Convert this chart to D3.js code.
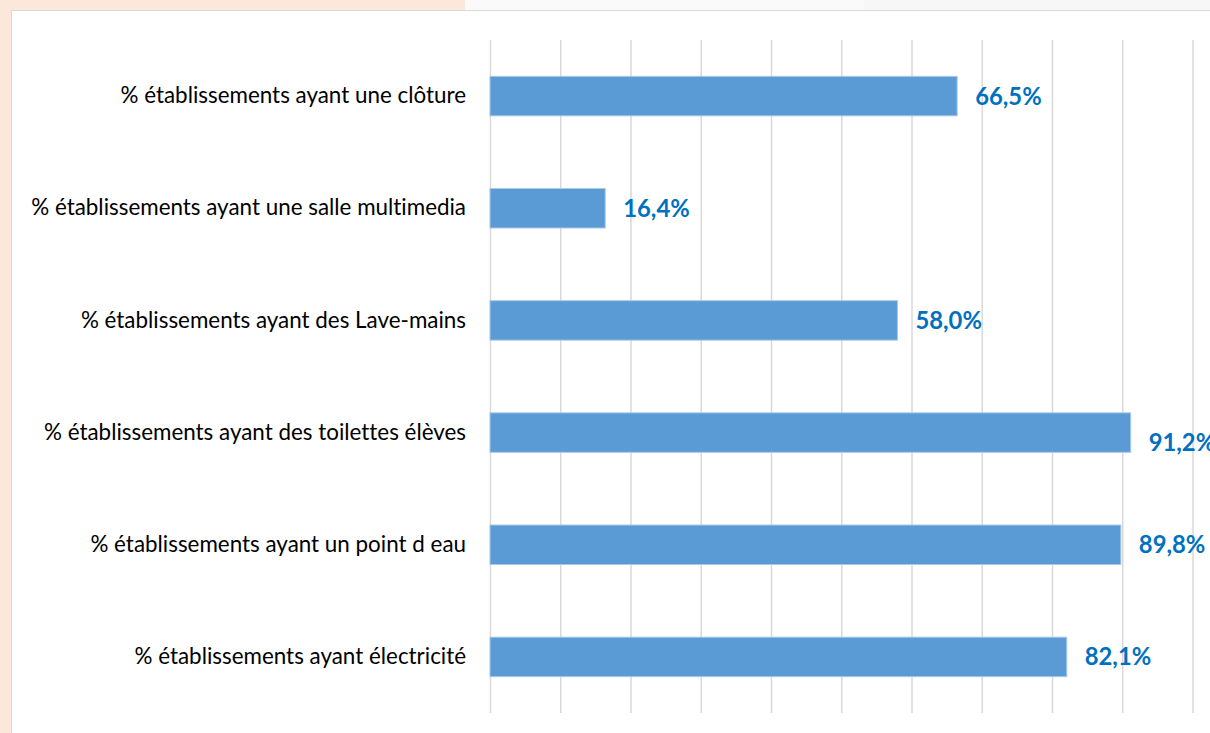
<!DOCTYPE html>
<html>
<head>
<meta charset="utf-8">
<script src="https://cdn.jsdelivr.net/npm/d3@7"></script>
<style>
  html, body { margin: 0; padding: 0; background: #FBE8DA; overflow: hidden; }
  svg { display: block; }
  text { font-variant-ligatures: none; font-feature-settings: "liga" 0, "clig" 0; }
</style>
</head>
<body>
<svg id="chart" width="1210" height="733"></svg>
<script>
const categories = [
  "% établissements ayant une clôture",
  "% établissements ayant une salle multimedia",
  "% établissements ayant des Lave-mains",
  "% établissements ayant des toilettes élèves",
  "% établissements ayant un point d eau",
  "% établissements ayant électricité"
];
const values = [66.5, 16.4, 58.0, 91.2, 89.8, 82.1];
const valueLabels = ["66,5%", "16,4%", "58,0%", "91,2%", "89,8%", "82,1%"];
const xTicks = [0, 10, 20, 30, 40, 50, 60, 70, 80, 90, 100];

const svg = d3.select("#chart");
const W = 1210, H = 733;

// page background pieces
svg.append("rect").attr("x", 0).attr("y", 0).attr("width", W).attr("height", H).attr("fill", "#FBE8DA");
svg.append("rect").attr("x", 465).attr("y", 0).attr("width", 400).attr("height", 11).attr("fill", "#FAFAFA");
svg.append("rect").attr("x", 864).attr("y", 0).attr("width", W - 864).attr("height", 11).attr("fill", "#F7F7F7");
// white chart panel with light border
svg.append("rect").attr("x", 11.5).attr("y", 10.5).attr("width", W).attr("height", H)
  .attr("fill", "#FFFFFF").attr("stroke", "#D9D9D9").attr("stroke-width", 1);

const margin = { left: 490, right: 17.5, top: 40, bottom: 20 };
const x = d3.scaleLinear().domain([0, 100]).range([margin.left, W - margin.right]);
const y = d3.scaleBand().domain(categories).range([margin.top, H - margin.bottom]).paddingInner(0.648).paddingOuter(0.324);

// gridlines
const grid = svg.append("g")
  .attr("transform", `translate(0,${H - margin.bottom})`)
  .call(d3.axisBottom(x).tickValues(xTicks).tickSize(-(H - margin.bottom - margin.top)).tickFormat(""));
grid.select(".domain").remove();
grid.selectAll(".tick line").attr("stroke", "#D9D9D9").attr("stroke-width", 1.5);

// bars
svg.append("g").selectAll("rect").data(values).join("rect")
  .attr("x", x(0))
  .attr("y", (d, i) => y(categories[i]))
  .attr("width", d => x(d) - x(0))
  .attr("height", y.bandwidth())
  .attr("fill", "#5B9BD5")
  .attr("stroke", "#A9C9EA")
  .attr("stroke-width", 1);

// category labels
const yAxis = svg.append("g")
  .attr("transform", `translate(${x(0)},0)`)
  .call(d3.axisLeft(y).tickSize(0).tickPadding(24));
yAxis.select(".domain").remove();
yAxis.selectAll("text")
  .attr("font-family", "Lato, sans-serif")
  .attr("font-size", "22.4px")
  .attr("fill", "#000000");

// value labels
svg.append("g").selectAll("text").data(values).join("text")
  .attr("x", d => x(d) + 18)
  .attr("y", (d, i) => y(categories[i]) + y.bandwidth() / 2 + ((x(d) + 80 > W) ? 10 : 0))
  .attr("dy", "0.36em")
  .attr("font-family", "Lato, sans-serif")
  .attr("font-weight", "bold")
  .attr("font-size", "23.8px")
  .attr("fill", "#0070C0")
  .text((d, i) => valueLabels[i]);
</script>
</body>
</html>
